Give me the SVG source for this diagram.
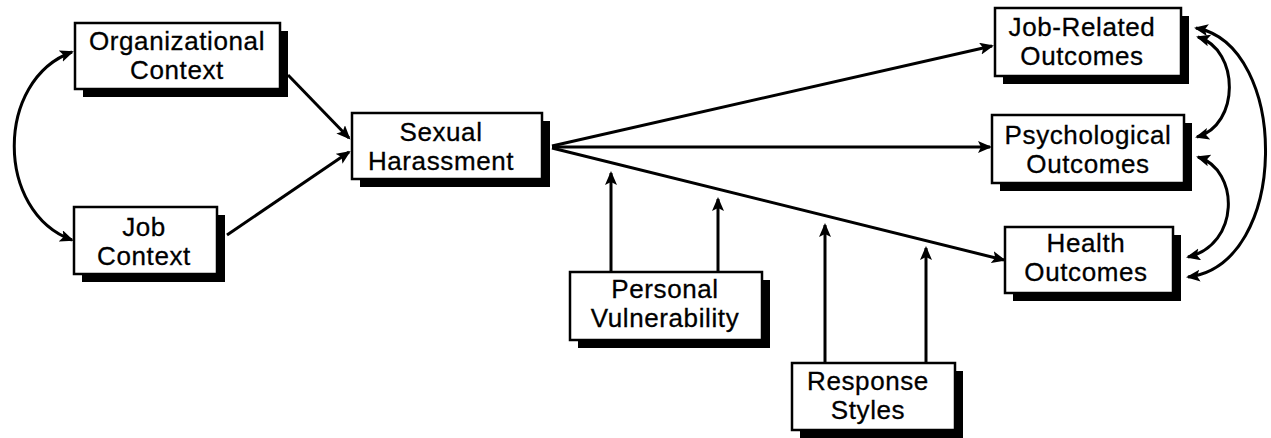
<svg xmlns="http://www.w3.org/2000/svg" width="1271" height="438" viewBox="0 0 1271 438">
<defs>
<style>
.sh{fill:#000}
.bx{fill:#fff;stroke:#000;stroke-width:2.5}
.t{font-family:"Liberation Sans",Arial,sans-serif;font-size:26px;letter-spacing:0.6px;fill:#000;stroke:#000;stroke-width:0.3;text-anchor:middle}
.c{fill:none;stroke:#000;stroke-width:3}
</style>
<marker id="ah" markerUnits="userSpaceOnUse" markerWidth="16" markerHeight="14" refX="12" refY="6" orient="auto-start-reverse" viewBox="0 0 16 14">
<path d="M0,0 L14,6 L0,12 L3,6 Z" fill="#000"/>
</marker>
</defs>
<rect width="1271" height="438" fill="#fff"/>

<g id="connectors">
<path class="c" d="M72,52 C-5,80 -5,212 72,240" marker-start="url(#ah)" marker-end="url(#ah)"/>
<line class="c" x1="288" y1="75" x2="349" y2="138" marker-end="url(#ah)"/>
<line class="c" x1="227" y1="235" x2="349" y2="152" marker-end="url(#ah)"/>
<line class="c" x1="552" y1="146" x2="992" y2="46" marker-end="url(#ah)"/>
<line class="c" x1="552" y1="147" x2="990" y2="147" marker-end="url(#ah)"/>
<line class="c" x1="552" y1="148" x2="1004" y2="260" marker-end="url(#ah)"/>
<line class="c" x1="611" y1="272" x2="611" y2="173" marker-end="url(#ah)"/>
<line class="c" x1="718" y1="272" x2="718" y2="199" marker-end="url(#ah)"/>
<line class="c" x1="825" y1="363" x2="825" y2="225" marker-end="url(#ah)"/>
<line class="c" x1="926" y1="363" x2="926" y2="248" marker-end="url(#ah)"/>
<path class="c" d="M1198,37 C1240,50 1240,125 1197,137" marker-start="url(#ah)" marker-end="url(#ah)"/>
<path class="c" d="M1198,157 C1240,170 1240,245 1188,257" marker-start="url(#ah)" marker-end="url(#ah)"/>
<path class="c" d="M1196,28 C1290,45 1290,265 1188,277" marker-start="url(#ah)" marker-end="url(#ah)"/>
</g>

<g id="org">
<rect class="sh" x="83" y="31" width="205" height="66"/>
<rect class="bx" x="75" y="23" width="205" height="66"/>
<text class="t" x="177" y="50">Organizational</text>
<text class="t" x="177" y="79">Context</text>
</g>

<g id="job">
<rect class="sh" x="82" y="215" width="143" height="67"/>
<rect class="bx" x="74" y="207" width="143" height="67"/>
<text class="t" x="144" y="236">Job</text>
<text class="t" x="144" y="265">Context</text>
</g>

<g id="sh">
<rect class="sh" x="360" y="121" width="190" height="66"/>
<rect class="bx" x="352" y="113" width="190" height="66"/>
<text class="t" x="441" y="141">Sexual</text>
<text class="t" x="441" y="170">Harassment</text>
</g>

<g id="jr">
<rect class="sh" x="1003" y="16" width="186" height="68"/>
<rect class="bx" x="995" y="8" width="186" height="68"/>
<text class="t" x="1082" y="36">Job-Related</text>
<text class="t" x="1082" y="65">Outcomes</text>
</g>

<g id="psy">
<rect class="sh" x="1000" y="123" width="192" height="68"/>
<rect class="bx" x="992" y="115" width="192" height="68"/>
<text class="t" x="1088" y="144">Psychological</text>
<text class="t" x="1088" y="173">Outcomes</text>
</g>

<g id="health">
<rect class="sh" x="1013" y="235" width="168" height="66"/>
<rect class="bx" x="1005" y="227" width="168" height="66"/>
<text class="t" x="1086" y="252">Health</text>
<text class="t" x="1086" y="281">Outcomes</text>
</g>

<g id="pv">
<rect class="sh" x="578" y="280" width="192" height="68"/>
<rect class="bx" x="570" y="272" width="192" height="68"/>
<text class="t" x="665" y="298">Personal</text>
<text class="t" x="665" y="327">Vulnerability</text>
</g>

<g id="rs">
<rect class="sh" x="800" y="371" width="163" height="67"/>
<rect class="bx" x="792" y="363" width="163" height="67"/>
<text class="t" x="868" y="390">Response</text>
<text class="t" x="868" y="419">Styles</text>
</g>
</svg>
